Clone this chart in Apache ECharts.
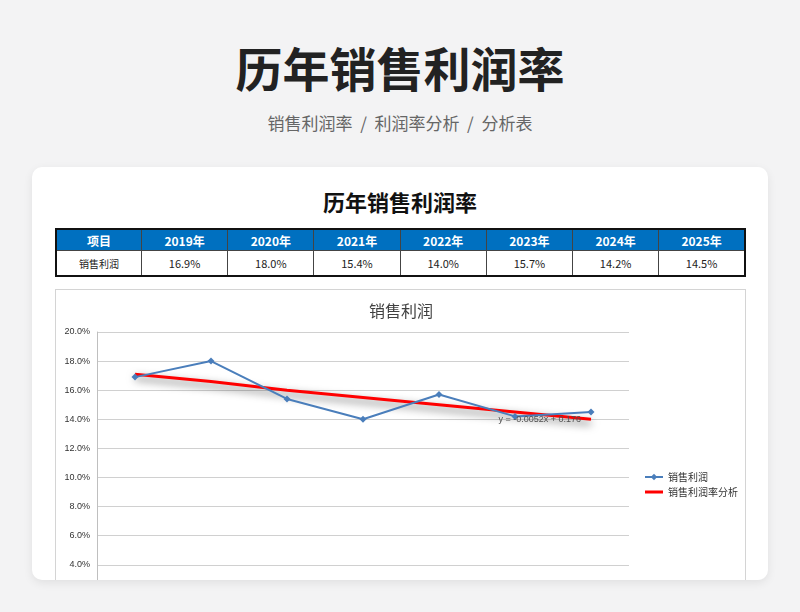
<!DOCTYPE html>
<html><head><meta charset="utf-8">
<script src="https://cdn.jsdelivr.net/npm/echarts@6/dist/echarts.min.js"></script>
<style>
html,body{margin:0;padding:0;width:800px;height:612px;overflow:hidden;background:#f3f3f4;font-family:"Noto Sans CJK SC","Noto Sans",sans-serif;}
#title{position:absolute;left:0;top:36px;width:800px;text-align:center;font-size:47px;font-weight:bold;color:#222;line-height:62px;}
#sub{position:absolute;left:0;top:110px;width:800px;text-align:center;font-size:17px;color:#666;line-height:26px;}
#card{position:absolute;left:32px;top:167px;width:736px;height:413px;background:#fff;border-radius:10px;box-shadow:0 3px 10px rgba(0,0,0,0.08);overflow:hidden;}
#ctitle{position:absolute;left:0;top:19px;width:736px;text-align:center;font-size:22px;font-weight:bold;color:#111;line-height:30px;}
#tbl{position:absolute;left:23px;top:61px;width:691px;border-collapse:collapse;border:2px solid #111;table-layout:fixed;}
#tbl td{border:1px solid #444;text-align:center;padding:0;font-family:"Noto Sans CJK SC",sans-serif;}
#tbl tr.h td{background:#0070c0;color:#fff;font-weight:bold;font-size:12px;height:20px;}
#tbl tr.d td{font-size:11px;color:#222;height:24px;}
#box{position:absolute;left:23px;top:122px;width:689px;height:300px;border:1.5px solid #d4d4d4;overflow:hidden;}
#chart{position:absolute;left:0;top:0;width:690px;height:345px;}
</style></head>
<body>
<div id="title">历年销售利润率</div>
<div id="sub">销售利润率 &nbsp;/ &nbsp;利润率分析 &nbsp;/ &nbsp;分析表</div>
<div id="card">
  <div id="ctitle">历年销售利润率</div>
  <table id="tbl"></table>
  <div id="box"><div id="chart"></div></div>
</div>
<script>
var years = ['2019年','2020年','2021年','2022年','2023年','2024年','2025年'];
var rowLabel = '销售利润';
var headLabel = '项目';
var profitRate = [16.9, 18.0, 15.4, 14.0, 15.7, 14.2, 14.5];
var trendRate = [17.1, 16.6, 16.0, 15.5, 15.0, 14.5, 14.0];
var trendEquation = 'y = -0.0052x + 0.176';
var seriesNames = ['销售利润', '销售利润率分析'];
var chartTitle = '销售利润';

// table
var tbl = document.getElementById('tbl');
var h = '<tr class="h"><td style="width:84px">' + headLabel + '</td>';
years.forEach(function(y){ h += '<td>' + y + '</td>'; });
h += '</tr><tr class="d"><td style="font-size:10px">' + rowLabel + '</td>';
profitRate.forEach(function(v){ h += '<td>' + v.toFixed(1) + '%</td>'; });
h += '</tr>';
tbl.innerHTML = h;

var chart = echarts.init(document.getElementById('chart'), null, {renderer:'canvas'});
var last = trendRate.length - 1;
chart.setOption({
  animation: false,
  title: {text: chartTitle, left: 'center', top: 8, textStyle: {fontSize: 16, fontWeight: 'normal', color: '#404040', fontFamily: 'Noto Sans CJK SC'}},
  grid: {left: 41, right: 117, top: 42, bottom: 12},
  legend: {
    orient: 'vertical', left: 583, top: 177, itemGap: 5, itemWidth: 18, itemHeight: 8,
    textStyle: {fontSize: 10, color: '#333', fontFamily: 'Noto Sans CJK SC'},
    data: [
      {name: seriesNames[0]},
      {name: seriesNames[1], icon: 'path://M0,0 L18,0 L18,3 L0,3 Z'}
    ]
  },
  xAxis: {
    type: 'category', data: years, boundaryGap: true,
    axisLine: {show: false}, axisTick: {show: false}, axisLabel: {show: false}
  },
  yAxis: {
    type: 'value', min: 0, max: 20, interval: 2,
    axisLine: {show: true, lineStyle: {color: '#bfbfbf', width: 1}},
    axisTick: {show: false},
    splitLine: {lineStyle: {color: '#d0d0d0', width: 1}},
    axisLabel: {formatter: function(v){ return v.toFixed(1) + '%'; }, fontSize: 9, color: '#333', margin: 7, fontFamily: 'Liberation Sans'}
  },
  series: [
    {
      name: seriesNames[0], type: 'line', data: profitRate,
      symbol: 'diamond', symbolSize: 7,
      lineStyle: {color: '#4a7ebb', width: 2},
      itemStyle: {color: '#4a7ebb'}, z: 3
    },
    {
      name: seriesNames[1], type: 'line', data: trendRate,
      symbol: 'none',
      lineStyle: {color: '#ff0000', width: 3, shadowColor: 'rgba(0,0,0,0.6)', shadowBlur: 8, shadowOffsetY: 4},
      itemStyle: {color: '#ff0000'}, z: 2,
      markPoint: {
        symbol: 'circle', symbolSize: 0, silent: true, z: 10,
        data: [{
          coord: [years[last], trendRate[last]],
          label: {show: true, formatter: trendEquation, position: 'left', distance: 10, fontSize: 9, color: '#505050', fontFamily: 'Liberation Sans'}
        }]
      }
    }
  ]
});
</script>
</body></html>
